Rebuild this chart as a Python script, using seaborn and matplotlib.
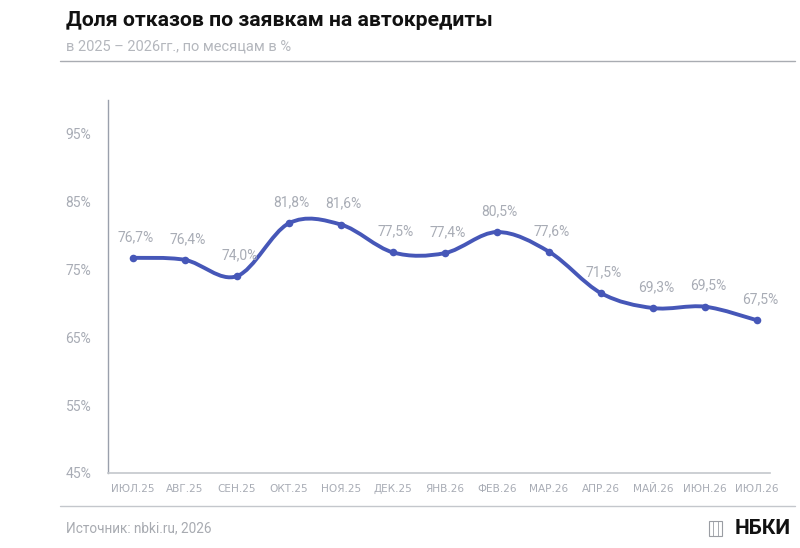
import numpy as np
import pandas as pd
import matplotlib
matplotlib.use("Agg")
import matplotlib.pyplot as plt
from matplotlib.path import Path
from matplotlib.patches import PathPatch, Rectangle
from matplotlib.lines import Line2D
import seaborn as sns

# ----------------------------
# DATA
# ----------------------------
months = ["ИЮЛ.25", "АВГ.25", "СЕН.25", "ОКТ.25", "НОЯ.25", "ДЕК.25", "ЯНВ.26",
          "ФЕВ.26", "МАР.26", "АПР.26", "МАЙ.26", "ИЮН.26", "ИЮЛ.26"]
share = [76.7, 76.4, 74.0, 81.8, 81.6, 77.5, 77.4, 80.5, 77.6, 71.5, 69.3, 69.5, 67.5]
y_ticks = [45, 55, 65, 75, 85, 95]

df = pd.DataFrame({"month": months, "share": share})
df["pos"] = range(len(df))

BLUE = "#4657b8"
GREY = "#a8acb5"

sns.set_theme(style="white")
plt.rcParams["font.family"] = ["Roboto", "DejaVu Sans"]

fig = plt.figure(figsize=(8, 5.48), dpi=100)
ax = fig.add_axes([0.135, 0.137, 0.8275, 0.681])

# smooth line (Catmull-Rom style bezier through the data points)
x = df["pos"].to_numpy(dtype=float)
y = df["share"].to_numpy(dtype=float)
verts = [(x[0], y[0])]
codes = [Path.MOVETO]
for i in range(len(x) - 1):
    x0, y0 = (x[i - 1], y[i - 1]) if i > 0 else (x[i], y[i])
    x3, y3 = (x[i + 2], y[i + 2]) if i + 2 < len(x) else (x[i + 1], y[i + 1])
    c1 = (x[i] + (x[i + 1] - x0) / 6, y[i] + (y[i + 1] - y0) / 6)
    c2 = (x[i + 1] - (x3 - x[i]) / 6, y[i + 1] - (y3 - y[i]) / 6)
    verts += [c1, c2, (x[i + 1], y[i + 1])]
    codes += [Path.CURVE4] * 3
ax.add_patch(PathPatch(Path(verts, codes), facecolor="none", edgecolor=BLUE,
                       lw=2.8, capstyle="round", joinstyle="round", zorder=2))

sns.scatterplot(data=df, x="pos", y="share", ax=ax, color=BLUE, s=30,
                edgecolor=BLUE, linewidth=0, zorder=3, legend=False)

for xi, yi in zip(x, y):
    ax.annotate(f"{yi:.1f}%".replace(".", ","), (xi, yi), xytext=(2, 10),
                textcoords="offset points", ha="center", va="bottom",
                fontsize=10, color=GREY)

ax.set_xlim(-0.48, 12.25)
ax.set_ylim(45, 100)
ax.set_yticks(y_ticks)
ax.set_yticklabels([f"{t}%" for t in y_ticks])
ax.set_xticks(df["pos"])
ax.set_xticklabels(months)
ax.tick_params(axis="y", length=0, pad=12, labelsize=10, labelcolor=GREY)
ax.tick_params(axis="x", length=0, pad=8, labelcolor=GREY)
for lbl in ax.get_xticklabels():
    lbl.set_fontfamily(["DejaVu Sans"])
    lbl.set_fontsize(7.6)
ax.set_xlabel("")
ax.set_ylabel("")

for side in ["top", "right"]:
    ax.spines[side].set_visible(False)
ax.spines["left"].set_color("#9aa0ac")
ax.spines["bottom"].set_color("#c4c7cc")
ax.spines["left"].set_linewidth(1.0)
ax.spines["bottom"].set_linewidth(1.2)

# header / footer
fig.text(0.083, 0.962, "Доля отказов по заявкам на автокредиты", fontsize=15.2,
         fontweight="bold", color="#111111", va="center", ha="left")
fig.text(0.083, 0.915, "в 2025 – 2026гг., по месяцам в %", fontsize=10.5,
         color="#b4b7bd", va="center", ha="left")
fig.add_artist(Line2D([0.075, 0.994], [0.888, 0.888], color="#a9acb2", lw=1.0))
fig.add_artist(Line2D([0.075, 0.994], [0.077, 0.077], color="#c4c7cc", lw=1.0))
fig.text(0.083, 0.036, "Источник: nbki.ru, 2026", fontsize=9.8, color="#a8abb1",
         va="center", ha="left")
fig.text(0.988, 0.036, "НБКИ", fontsize=15, fontweight="bold", color="#111111",
         va="center", ha="right")
# small logo icon
fig.add_artist(Rectangle((0.886, 0.022), 0.017, 0.027, fill=False,
                         edgecolor="#9a9da3", lw=0.8))
for xx in [0.8917, 0.8973]:
    fig.add_artist(Line2D([xx, xx], [0.022, 0.049], color="#9a9da3", lw=0.6))

fig.savefig("out.png", dpi=100, facecolor="white")
